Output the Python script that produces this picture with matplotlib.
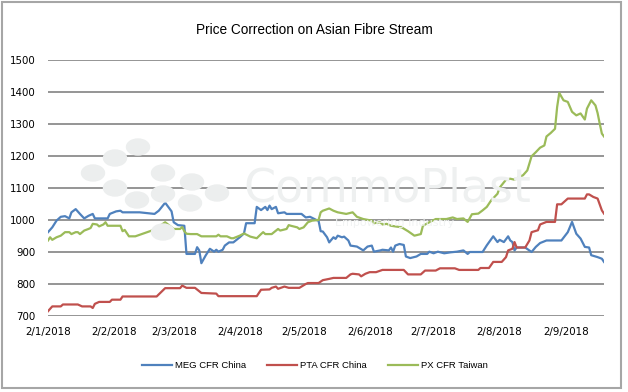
#!/usr/bin/env python3

import matplotlib as mpl
mpl.use('Agg')
import matplotlib.pyplot as plt
from matplotlib import font_manager
from matplotlib.patches import Rectangle, Ellipse
import pandas as pd

# ---- data ----
meg_dates = [
    '01-02', '01-04', '01-06', '01-08', '01-10', '01-12', '01-13', '01-15', '01-17', '01-19',
    '01-21', '01-23', '01-24', '01-30', '01-31', '02-03', '02-05', '02-06', '02-14', '02-21',
    '02-23', '02-26', '02-28', '03-01', '03-02', '03-04', '03-07', '03-08', '03-12', '03-13',
    '03-14', '03-15', '03-17', '03-19', '03-21', '03-22', '03-23', '03-25', '03-26', '03-28',
    '03-30', '04-02', '04-04', '04-05', '04-09', '04-10', '04-12', '04-14', '04-15', '04-16',
    '04-17', '04-19', '04-20', '04-23', '04-24', '05-01', '05-03', '05-05', '05-08', '05-09',
    '05-10', '05-11', '05-13', '05-14', '05-16', '05-17', '05-18', '05-20', '05-21', '05-23',
    '05-24', '05-27', '05-30', '06-01', '06-03', '06-04', '06-07', '06-08', '06-11', '06-12',
    '06-13', '06-14', '06-16', '06-18', '06-19', '06-21', '06-24', '06-26', '06-29', '06-30',
    '07-02', '07-04', '07-07', '07-10', '07-13', '07-16', '07-18', '07-19', '07-25', '07-27',
    '07-30', '08-01', '08-02', '08-04', '08-06', '08-07', '08-08', '08-09', '08-10', '08-14',
    '08-17', '08-19', '08-21', '08-24', '08-31', '09-03', '09-05', '09-07', '09-09', '09-11',
    '09-13', '09-14', '09-17', '09-19', '09-20',
]
meg_values = [
    962, 977, 998, 1010, 1012, 1005, 1024, 1034, 1019, 1005,
    1013, 1019, 1005, 1005, 1019, 1027, 1029, 1024, 1024, 1019,
    1029, 1054, 1036, 1027, 993, 984, 982, 894, 894, 915,
    905, 865, 889, 910, 901, 907, 901, 907, 920, 930,
    930, 946, 958, 990, 990, 1041, 1031, 1041, 1031, 1045,
    1034, 1041, 1021, 1024, 1019, 1019, 1008, 1010, 1000, 998,
    965, 964, 946, 930, 946, 941, 951, 946, 948, 936,
    920, 917, 905, 917, 920, 901, 905, 907, 905, 914,
    901, 920, 925, 922, 886, 881, 886, 894, 894, 901,
    896, 901, 896, 899, 901, 905, 894, 900, 900, 921,
    949, 931, 938, 931, 949, 936, 931, 905, 914, 914,
    900, 916, 928, 936, 936, 962, 994, 957, 942, 916,
    914, 890, 884, 879, 869,
]

pta_dates = [
    '01-02', '01-04', '01-08', '01-09', '01-16', '01-18', '01-22', '01-23', '01-24', '01-26',
    '01-31', '02-01', '02-05', '02-06', '02-22', '02-26', '03-05', '03-06', '03-08', '03-12',
    '03-15', '03-22', '03-23', '04-10', '04-12', '04-16', '04-17', '04-19', '04-20', '04-23',
    '04-25', '04-30', '05-03', '05-04', '05-09', '05-11', '05-14', '05-16', '05-22', '05-24',
    '05-25', '05-28', '05-29', '05-31', '06-02', '06-05', '06-08', '06-18', '06-20', '06-26',
    '06-28', '07-03', '07-05', '07-12', '07-14', '07-23', '07-24', '07-28', '07-30', '08-03',
    '08-05', '08-06', '08-08', '08-09', '08-10', '08-14', '08-16', '08-17', '08-20', '08-21',
    '08-24', '08-28', '08-29', '08-31', '09-03', '09-11', '09-12', '09-13', '09-15', '09-17',
    '09-19', '09-20',
]
pta_values = [
    715, 730, 730, 736, 736, 730, 730, 725, 738, 744,
    744, 751, 751, 761, 761, 787, 787, 795, 788, 788,
    772, 770, 762, 762, 782, 783, 788, 792, 785, 792,
    788, 788, 800, 803, 803, 812, 816, 819, 819, 830,
    832, 830, 824, 832, 837, 837, 844, 844, 830, 830,
    842, 842, 849, 849, 844, 844, 850, 850, 869, 869,
    884, 905, 910, 931, 914, 914, 936, 962, 968, 986,
    994, 994, 1049, 1049, 1067, 1067, 1080, 1080, 1072, 1067,
    1030, 1020,
]

px_dates = [
    '01-02', '01-03', '01-04', '01-06', '01-08', '01-10', '01-12', '01-13', '01-15', '01-16',
    '01-17', '01-19', '01-21', '01-22', '01-23', '01-25', '01-26', '01-28', '01-29', '01-30',
    '02-05', '02-06', '02-07', '02-09', '02-12', '02-21', '02-26', '03-02', '03-05', '03-06',
    '03-07', '03-08', '03-10', '03-13', '03-15', '03-22', '03-23', '03-24', '03-27', '03-29',
    '03-30', '04-02', '04-04', '04-07', '04-10', '04-12', '04-13', '04-14', '04-17', '04-20',
    '04-21', '04-24', '04-25', '04-26', '04-29', '04-30', '05-02', '05-04', '05-06', '05-09',
    '05-10', '05-11', '05-14', '05-16', '05-18', '05-22', '05-25', '05-27', '05-30', '06-03',
    '06-04', '06-07', '06-08', '06-10', '06-12', '06-17', '06-20', '06-23', '06-26', '06-27',
    '06-30', '07-03', '07-08', '07-11', '07-13', '07-16', '07-18', '07-20', '07-23', '07-25',
    '07-27', '07-29', '08-01', '08-02', '08-05', '08-07', '08-09', '08-11', '08-13', '08-15',
    '08-17', '08-19', '08-21', '08-23', '08-24', '08-26', '08-28', '08-29', '08-30', '09-01',
    '09-03', '09-05', '09-07', '09-09', '09-11', '09-12', '09-14', '09-16', '09-17', '09-18',
    '09-19', '09-20',
]
px_values = [
    936, 946, 938, 946, 951, 962, 962, 956, 962, 962,
    956, 967, 972, 975, 988, 986, 980, 986, 993, 982,
    982, 965, 969, 949, 949, 970, 993, 972, 972, 978,
    965, 957, 956, 956, 949, 949, 954, 949, 949, 943,
    943, 951, 958, 948, 943, 956, 962, 956, 956, 972,
    967, 972, 984, 982, 977, 972, 977, 993, 998, 1000,
    1024, 1029, 1036, 1029, 1024, 1019, 1024, 1010, 1003, 998,
    990, 993, 986, 988, 982, 977, 965, 951, 956, 982,
    993, 1003, 1003, 1008, 1003, 1005, 994, 1018, 1020, 1030,
    1041, 1061, 1082, 1101, 1126, 1129, 1126, 1134, 1140, 1155,
    1199, 1212, 1226, 1233, 1261, 1272, 1285, 1353, 1397, 1374,
    1369, 1338, 1327, 1333, 1314, 1348, 1374, 1358, 1334, 1301,
    1270, 1261,
]

series_names = ['MEG CFR China', 'PTA CFR China', 'PX CFR Taiwan']
tick_dates = ['2018-01-02', '2018-02-02', '2018-03-02', '2018-04-02', '2018-05-02',
              '2018-06-02', '2018-07-02', '2018-08-02', '2018-09-02']
tick_labels = ['2/1/2018', '2/2/2018', '2/3/2018', '2/4/2018', '2/5/2018',
               '2/6/2018', '2/7/2018', '2/8/2018', '2/9/2018']
y_ticks = [700, 800, 900, 1000, 1100, 1200, 1300, 1400, 1500]

names = {f.name for f in font_manager.fontManager.ttflist}
if 'Liberation Sans Narrow' in names:
    NARROW, TITLE_SIZE, LEGEND_SIZE = 'Liberation Sans Narrow', 11.5, 8
else:
    NARROW, TITLE_SIZE, LEGEND_SIZE = 'Liberation Sans', 9.8, 6.8


def to_dates(md):
    return pd.to_datetime(['2018-' + s for s in md])


def main():
    W, H = 628, 392
    fig = plt.figure(figsize=(W / 100, H / 100), dpi=100)
    fig.patch.set_facecolor('white')

    # plot area in pixels: x 48..604, y 60..316
    ax = fig.add_axes([48 / W, 1 - 316 / H, (604 - 48) / W, (316 - 60) / H])
    ax.set_facecolor('none')

    # faint watermark logo
    dots = [(138, 147), (115, 158), (93, 173), (163, 173), (115, 188), (192, 182),
            (137, 200), (163, 194), (217, 193), (190, 203), (163, 232)]
    for (px, py) in dots:
        fig.patches.append(Ellipse((px / W, 1 - py / H), 23 / W, 16 / H,
                                   transform=fig.transFigure, color='#eceeee', zorder=0))
    fig.text(243 / W, 1 - 202 / H, 'CommoPlast', fontsize=33, color='#eef0f0',
             family='DejaVu Sans', ha='left', va='baseline', zorder=0)
    fig.text(335 / W, 1 - 226 / H, 'Empowering Industry', fontsize=8, color='#f1f3f3',
             family='DejaVu Sans', ha='left', va='baseline', zorder=0)

    colors = ['#4F81BD', '#C0504D', '#9BBB59']
    ax.plot(to_dates(meg_dates), meg_values, color=colors[0], lw=1.6, label=series_names[0])
    ax.plot(to_dates(pta_dates), pta_values, color=colors[1], lw=1.6, label=series_names[1])
    ax.plot(to_dates(px_dates), px_values, color=colors[2], lw=1.6, label=series_names[2])

    ax.set_ylim(700, 1500)
    ax.set_yticks(y_ticks)
    ax.set_xlim(pd.Timestamp('2018-01-02'), pd.Timestamp('2018-09-20'))
    ax.set_xticks(pd.to_datetime(tick_dates))
    ax.set_xticklabels(tick_labels)

    ax.yaxis.grid(True, color='#8c8c8c', lw=1.3)
    ax.xaxis.grid(False)
    ax.set_axisbelow(True)
    for s in ax.spines.values():
        s.set_visible(False)
    ax.tick_params(axis='both', length=0, labelsize=7.4, colors='black')
    ax.tick_params(axis='y', pad=9)
    ax.tick_params(axis='x', pad=8)

    fig.text(0.5, 1 - 30 / H, 'Price Correction on Asian Fibre Stream', family=NARROW,
             fontsize=TITLE_SIZE, ha='center', va='center')

    fig.legend(loc='center', bbox_to_anchor=(315 / W, 1 - 366 / H), ncol=3,
               frameon=False, prop={'family': NARROW, 'size': LEGEND_SIZE},
               handlelength=3.2, handletextpad=0.3, columnspacing=2.2)

    fig.patches.append(Rectangle((2 / W, 4 / H), 619 / W, 386 / H, transform=fig.transFigure,
                                 fill=False, ec='#a6a6a6', lw=1.5, zorder=5))

    fig.savefig('out.png', dpi=100)
    print('Created out.png')


if __name__ == '__main__':
    main()
